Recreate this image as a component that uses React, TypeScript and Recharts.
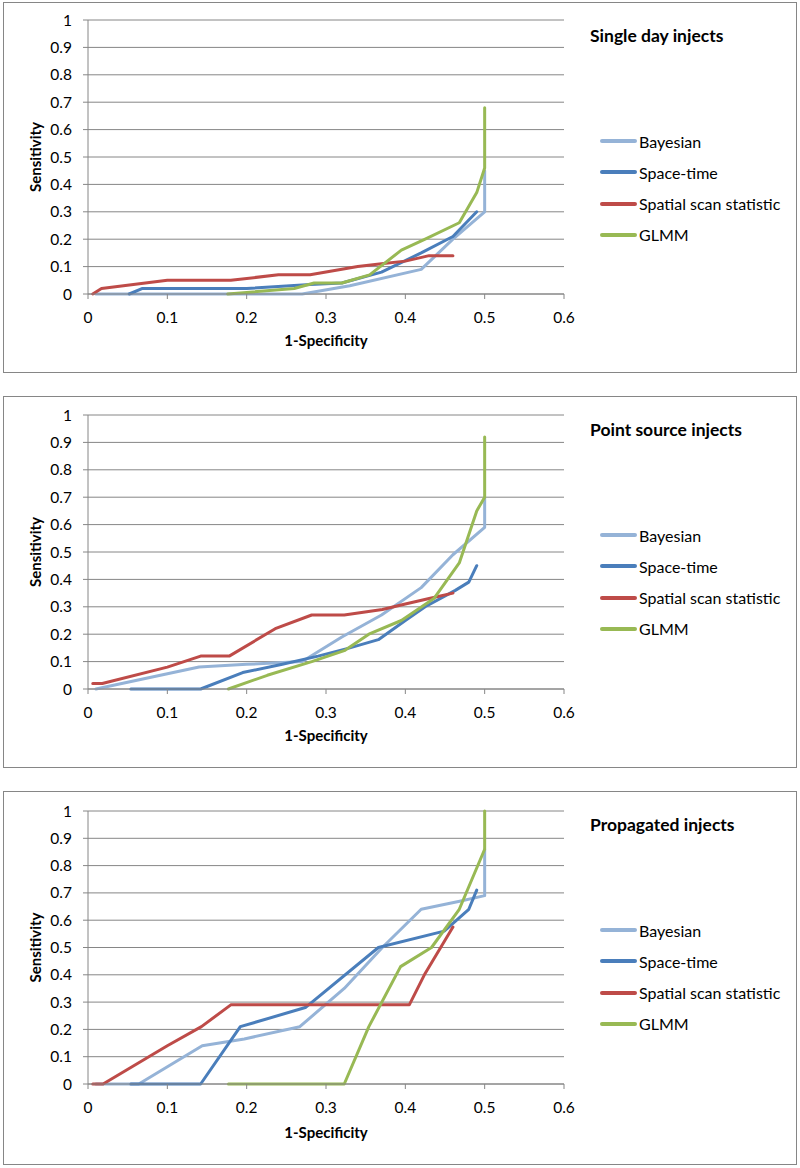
import { LineChart, Line, XAxis, YAxis, CartesianGrid, Label } from 'recharts';

type Pt = { x: number; y: number };

const X_TICKS = [0, 0.1, 0.2, 0.3, 0.4, 0.5, 0.6];
const Y_TICKS = [0, 0.1, 0.2, 0.3, 0.4, 0.5, 0.6, 0.7, 0.8, 0.9, 1];

const SERIES_NAMES = ['Bayesian', 'Space-time', 'Spatial scan statistic', 'GLMM'];
const SERIES_COLORS = ['#95B3D7', '#4A7EBB', '#BE4B48', '#98B954'];

// Single day injects
const singleBayesian: Pt[] = [
  { x: 0.01, y: 0 }, { x: 0.27, y: 0 }, { x: 0.33, y: 0.03 }, { x: 0.42, y: 0.09 },
  { x: 0.46, y: 0.2 }, { x: 0.5, y: 0.3 }, { x: 0.5, y: 0.45 },
];
const singleSpaceTime: Pt[] = [
  { x: 0.052, y: 0 }, { x: 0.068, y: 0.02 }, { x: 0.2, y: 0.02 }, { x: 0.28, y: 0.035 },
  { x: 0.32, y: 0.04 }, { x: 0.37, y: 0.08 }, { x: 0.42, y: 0.15 }, { x: 0.46, y: 0.21 },
  { x: 0.49, y: 0.3 },
];
const singleSpatial: Pt[] = [
  { x: 0.006, y: 0 }, { x: 0.017, y: 0.02 }, { x: 0.1, y: 0.05 }, { x: 0.18, y: 0.05 },
  { x: 0.24, y: 0.07 }, { x: 0.28, y: 0.07 }, { x: 0.34, y: 0.1 }, { x: 0.37, y: 0.11 },
  { x: 0.4, y: 0.12 }, { x: 0.43, y: 0.14 }, { x: 0.46, y: 0.14 },
];
const singleGlmm: Pt[] = [
  { x: 0.176, y: 0 }, { x: 0.26, y: 0.02 }, { x: 0.285, y: 0.04 }, { x: 0.32, y: 0.04 },
  { x: 0.355, y: 0.07 }, { x: 0.395, y: 0.16 }, { x: 0.425, y: 0.2 }, { x: 0.468, y: 0.26 },
  { x: 0.49, y: 0.37 }, { x: 0.5, y: 0.46 }, { x: 0.5, y: 0.68 },
];

// Point source injects
const pointBayesian: Pt[] = [
  { x: 0.01, y: 0 }, { x: 0.14, y: 0.08 }, { x: 0.2, y: 0.09 }, { x: 0.27, y: 0.1 },
  { x: 0.32, y: 0.19 }, { x: 0.37, y: 0.27 }, { x: 0.42, y: 0.37 }, { x: 0.46, y: 0.49 },
  { x: 0.5, y: 0.59 }, { x: 0.5, y: 0.7 },
];
const pointSpaceTime: Pt[] = [
  { x: 0.054, y: 0 }, { x: 0.142, y: 0 }, { x: 0.195, y: 0.06 }, { x: 0.245, y: 0.09 },
  { x: 0.29, y: 0.12 }, { x: 0.33, y: 0.15 }, { x: 0.366, y: 0.18 }, { x: 0.4, y: 0.25 },
  { x: 0.425, y: 0.3 }, { x: 0.463, y: 0.36 }, { x: 0.48, y: 0.39 }, { x: 0.49, y: 0.45 },
];
const pointSpatial: Pt[] = [
  { x: 0.006, y: 0.02 }, { x: 0.018, y: 0.02 }, { x: 0.1, y: 0.08 }, { x: 0.142, y: 0.12 },
  { x: 0.178, y: 0.12 }, { x: 0.236, y: 0.22 }, { x: 0.282, y: 0.27 }, { x: 0.323, y: 0.27 },
  { x: 0.371, y: 0.29 }, { x: 0.4, y: 0.31 }, { x: 0.43, y: 0.33 }, { x: 0.46, y: 0.35 },
];
const pointGlmm: Pt[] = [
  { x: 0.177, y: 0 }, { x: 0.226, y: 0.05 }, { x: 0.282, y: 0.1 }, { x: 0.323, y: 0.14 },
  { x: 0.354, y: 0.2 }, { x: 0.395, y: 0.25 }, { x: 0.436, y: 0.33 }, { x: 0.468, y: 0.46 },
  { x: 0.49, y: 0.65 }, { x: 0.5, y: 0.7 }, { x: 0.5, y: 0.92 },
];

// Propagated injects
const propBayesian: Pt[] = [
  { x: 0.01, y: 0 }, { x: 0.064, y: 0 }, { x: 0.144, y: 0.14 }, { x: 0.197, y: 0.165 },
  { x: 0.267, y: 0.21 }, { x: 0.323, y: 0.35 }, { x: 0.371, y: 0.5 }, { x: 0.42, y: 0.64 },
  { x: 0.47, y: 0.67 }, { x: 0.5, y: 0.69 }, { x: 0.5, y: 0.86 },
];
const propSpaceTime: Pt[] = [
  { x: 0.054, y: 0 }, { x: 0.142, y: 0 }, { x: 0.192, y: 0.21 }, { x: 0.274, y: 0.28 },
  { x: 0.366, y: 0.5 }, { x: 0.449, y: 0.56 }, { x: 0.48, y: 0.64 }, { x: 0.49, y: 0.71 },
];
const propSpatial: Pt[] = [
  { x: 0.006, y: 0 }, { x: 0.019, y: 0 }, { x: 0.1, y: 0.14 }, { x: 0.143, y: 0.21 },
  { x: 0.18, y: 0.29 }, { x: 0.405, y: 0.29 }, { x: 0.424, y: 0.4 }, { x: 0.46, y: 0.575 },
];
const propGlmm: Pt[] = [
  { x: 0.177, y: 0 }, { x: 0.323, y: 0 }, { x: 0.354, y: 0.21 }, { x: 0.394, y: 0.43 },
  { x: 0.433, y: 0.5 }, { x: 0.468, y: 0.64 }, { x: 0.5, y: 0.86 }, { x: 0.5, y: 1 },
];

const FONT = 'Lato, "Open Sans", "Liberation Sans", sans-serif';
const GRAY = '#868686';

interface PanelProps {
  title: string;
  series: Pt[][];
  top: number;
  height: number;
  plotTop: number; // offset of the "1" gridline from the panel's top edge
  plotH: number;
}

function Panel({ title, series, top, height, plotTop, plotH }: PanelProps) {
  const chartW = 792;
  const chartH = height - 2;
  const mTop = plotTop - 1;
  const xAxisH = chartH - mTop - plotH;

  return (
    <div
      style={{
        position: 'absolute', left: 3, top, width: 794, height,
        boxSizing: 'border-box', border: `1px solid ${GRAY}`, background: '#fff',
        fontFamily: FONT,
      }}
    >
      <LineChart width={chartW} height={chartH} margin={{ top: mTop, right: 232, left: 0, bottom: 0 }}>
        <CartesianGrid horizontal vertical={false} stroke={GRAY} strokeWidth={1} />
        <XAxis
          type="number" dataKey="x" domain={[0, 0.6]} ticks={X_TICKS} interval={0}
          height={xAxisH} tickSize={5} tickMargin={13}
          axisLine={{ stroke: GRAY }} tickLine={{ stroke: GRAY }}
          tick={{ fill: '#000', fontSize: 15.5, fontFamily: FONT }}
        >
          <Label
            value="1-Specificity" position="insideBottom" offset={26}
            style={{ fontWeight: 700, fontSize: 15, fill: '#000', fontFamily: FONT }}
          />
        </XAxis>
        <YAxis
          type="number" dataKey="y" domain={[0, 1]} ticks={Y_TICKS} interval={0}
          width={84} tickSize={5} tickMargin={11}
          axisLine={{ stroke: GRAY }} tickLine={{ stroke: GRAY }}
          tick={{ fill: '#000', fontSize: 15.5, fontFamily: FONT }}
        >
          <Label
            value="Sensitivity" angle={-90} position="insideLeft" offset={32}
            style={{ fontWeight: 700, fontSize: 15, fill: '#000', textAnchor: 'middle', fontFamily: FONT }}
          />
        </YAxis>
        {series.map((pts, i) => (
          <Line
            key={SERIES_NAMES[i]}
            data={pts}
            dataKey="y"
            name={SERIES_NAMES[i]}
            type="linear"
            stroke={SERIES_COLORS[i]}
            strokeWidth={3}
            strokeLinejoin="round"
            strokeLinecap="round"
            dot={false}
            activeDot={false}
            isAnimationActive={false}
          />
        ))}
      </LineChart>
      <div
        style={{
          position: 'absolute', left: 586, top: 33 - 11, fontWeight: 700, fontSize: 17.5,
          lineHeight: '22px', color: '#000', whiteSpace: 'nowrap',
        }}
      >
        {title}
      </div>
      {SERIES_NAMES.map((name, i) => (
        <div
          key={name}
          style={{
            position: 'absolute', left: 596, top: 138 + i * 31.3 - 10, height: 20,
            display: 'flex', alignItems: 'center', fontSize: 16, color: '#000', whiteSpace: 'nowrap',
          }}
        >
          <span style={{ display: 'inline-block', width: 37, height: 4, borderRadius: 2, background: SERIES_COLORS[i], marginRight: 2 }} />
          {name}
        </div>
      ))}
    </div>
  );
}

export default function App() {
  return (
    <div style={{ position: 'absolute', left: 0, top: 0, width: 800, height: 1168, background: '#fff' }}>
      <Panel
        title="Single day injects"
        series={[singleBayesian, singleSpaceTime, singleSpatial, singleGlmm]}
        top={2} height={371} plotTop={18} plotH={274}
      />
      <Panel
        title="Point source injects"
        series={[pointBayesian, pointSpaceTime, pointSpatial, pointGlmm]}
        top={396} height={372} plotTop={19} plotH={274}
      />
      <Panel
        title="Propagated injects"
        series={[propBayesian, propSpaceTime, propSpatial, propGlmm]}
        top={791} height={374} plotTop={20} plotH={273}
      />
    </div>
  );
}
